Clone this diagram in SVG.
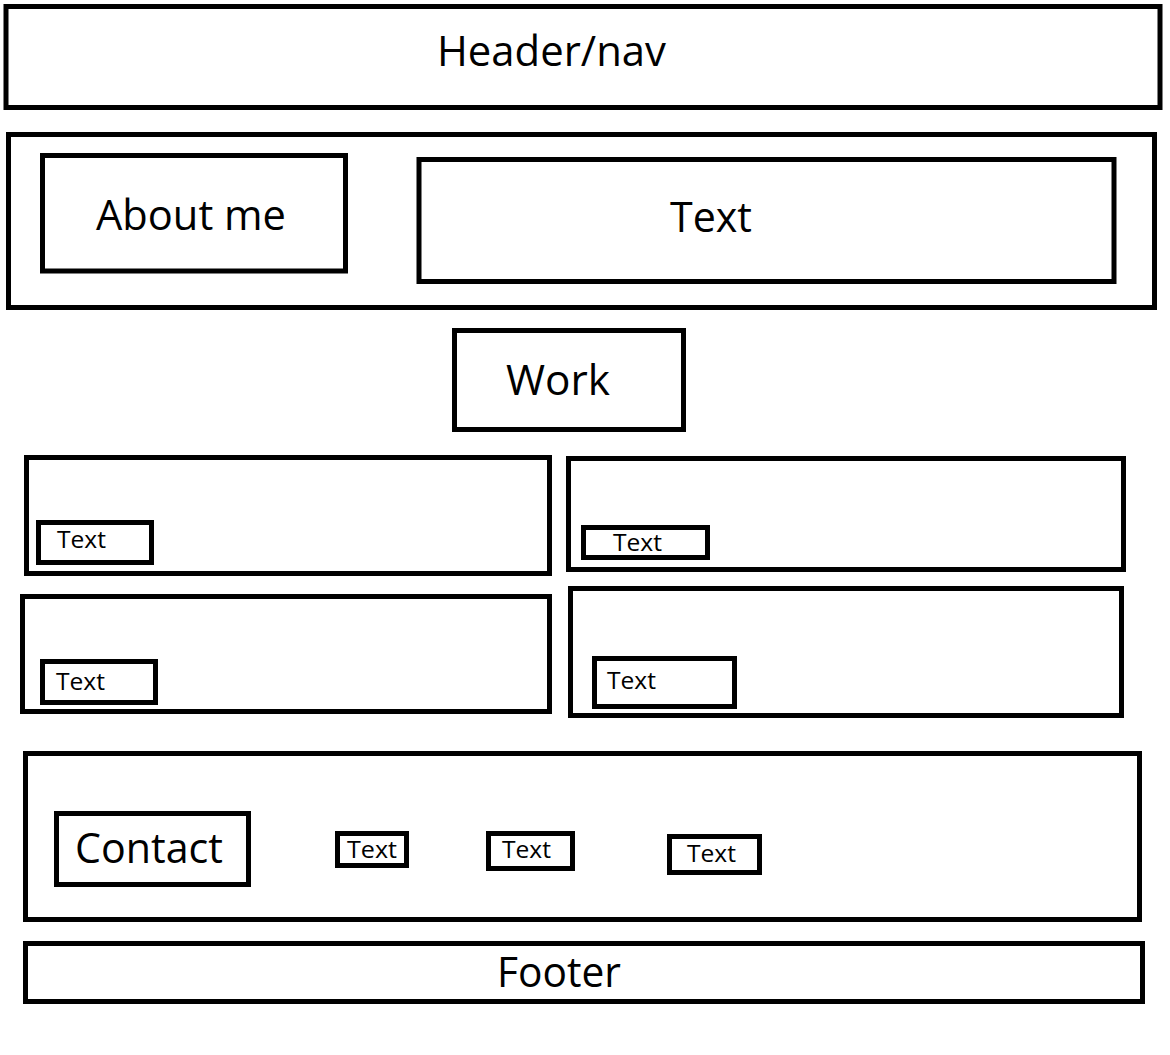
<svg xmlns="http://www.w3.org/2000/svg" width="1170" height="1055" viewBox="0 0 1170 1055">
<style>
rect{fill:none;stroke:#000;stroke-width:5}
text{font-family:"Open Sans","Noto Sans","DejaVu Sans",sans-serif;fill:#000}
.big{font-size:42px}
.small{font-size:23px}
</style>
<rect x="0" y="0" width="1170" height="1055" style="fill:#fff;stroke:none"/>
<g id="header"><rect x="6" y="6.5" width="1154" height="101"/><text class="big" x="437" y="66" textLength="229" lengthAdjust="spacingAndGlyphs">Header/nav</text></g>
<g id="about-section"><rect x="8.5" y="134.5" width="1146" height="173"/></g>
<g id="about-me"><rect x="42.5" y="155.5" width="303" height="115.5"/><text class="big" x="96" y="230" textLength="190" lengthAdjust="spacingAndGlyphs">About me</text></g>
<g id="about-text"><rect x="419" y="159.5" width="695" height="122"/><text class="big" x="670" y="232" textLength="82" lengthAdjust="spacingAndGlyphs">Text</text></g>
<g id="work"><rect x="454.5" y="330.5" width="229" height="99"/><text class="big" x="506" y="395" textLength="104" lengthAdjust="spacingAndGlyphs">Work</text></g>
<g id="work-1"><rect x="26.5" y="457.5" width="523" height="116"/></g>
<g id="work-1-text"><rect x="38.5" y="522.5" width="113" height="40"/><text class="small" x="57" y="548" textLength="49" lengthAdjust="spacingAndGlyphs">Text</text></g>
<g id="work-2"><rect x="568.5" y="458.5" width="555" height="111"/></g>
<g id="work-2-text"><rect x="583.5" y="527.5" width="124" height="30"/><text class="small" x="613" y="551" textLength="49" lengthAdjust="spacingAndGlyphs">Text</text></g>
<g id="work-3"><rect x="22.5" y="596.5" width="527" height="115"/></g>
<g id="work-3-text"><rect x="42.5" y="661.5" width="113" height="41"/><text class="small" x="56" y="690" textLength="49" lengthAdjust="spacingAndGlyphs">Text</text></g>
<g id="work-4"><rect x="570.5" y="588.5" width="551" height="127"/></g>
<g id="work-4-text"><rect x="594.5" y="658.5" width="140" height="48"/><text class="small" x="607" y="689" textLength="49" lengthAdjust="spacingAndGlyphs">Text</text></g>
<g id="contact-section"><rect x="25.5" y="753.5" width="1114" height="166"/></g>
<g id="contact"><rect x="56.5" y="813.5" width="192" height="71"/><text class="big" x="75" y="863" textLength="148" lengthAdjust="spacingAndGlyphs">Contact</text></g>
<g id="contact-text-1"><rect x="337.5" y="833.5" width="69" height="32"/><text class="small" x="347" y="858" textLength="50" lengthAdjust="spacingAndGlyphs">Text</text></g>
<g id="contact-text-2"><rect x="488.5" y="833.5" width="84" height="35"/><text class="small" x="502" y="858" textLength="49" lengthAdjust="spacingAndGlyphs">Text</text></g>
<g id="contact-text-3"><rect x="669.5" y="836.5" width="90" height="36"/><text class="small" x="687" y="862" textLength="49" lengthAdjust="spacingAndGlyphs">Text</text></g>
<g id="footer"><rect x="25.5" y="943.5" width="1117" height="58"/><text class="big" x="497" y="987" textLength="124" lengthAdjust="spacingAndGlyphs">Footer</text></g>
<g id="connectors"></g>
</svg>
